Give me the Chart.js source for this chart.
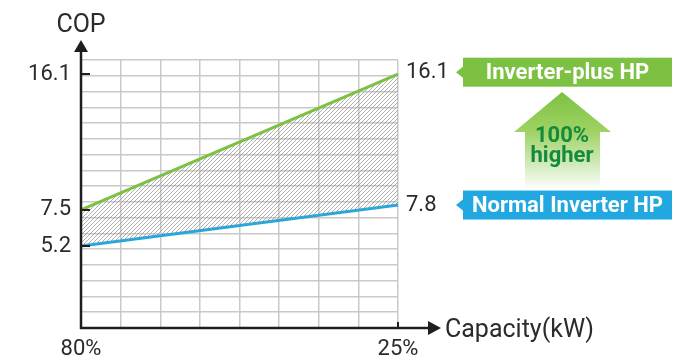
<!DOCTYPE html>
<html>
<head>
<meta charset="utf-8">
<title>COP vs Capacity</title>
<script src="https://cdn.jsdelivr.net/npm/chart.js@4/dist/chart.umd.min.js"></script>
<style>
  html, body { margin: 0; padding: 0; background: #ffffff; }
  #wrap { width: 674px; height: 359px; position: relative; }
</style>
</head>
<body>
<div id="wrap"><canvas id="cop"></canvas></div>
<script>
// Capacity load points (left to right) and COP of each heat pump type
const capacityLabels = ['80%', '25%'];
const copNormal = [5.2, 7.8];
const copPlus = [7.5, 16.1];
const yTickLabels = [5.2, 7.5, 16.1];
const seriesNames = ['Normal Inverter HP', 'Inverter-plus HP'];
const gainText = ['100%', 'higher'];
const yAxisTitle = 'COP';
const xAxisTitle = 'Capacity(kW)';

const GRID_COLS = 8;      // vertical grid divisions across the capacity range
const Y_MAX = 17;         // COP grid drawn in steps of 1 from 0

const GREEN = '#7cc142';
const BLUE = '#22a8e1';
const AXIS = '#1e1e1e';
const TEXT = '#2b2b2b';
const FONT = 'Roboto, "DejaVu Sans", sans-serif';

const toPoints = vals => vals.map((v, i) => ({ x: i * GRID_COLS / (vals.length - 1), y: v }));

// diagonal hatch used between the two curves
function hatchPattern() {
  const s = 4;
  const c = document.createElement('canvas');
  c.width = s; c.height = s;
  const g = c.getContext('2d');
  g.strokeStyle = 'rgba(150,150,150,0.75)';
  g.lineWidth = 1;
  g.beginPath();
  g.moveTo(0, s); g.lineTo(s, 0);
  g.moveTo(-1, 1); g.lineTo(1, -1);
  g.moveTo(s - 1, s + 1); g.lineTo(s + 1, s - 1);
  g.stroke();
  return g.createPattern(c, 'repeat');
}

const isLabelTick = v => yTickLabels.some(t => Math.abs(t - v) < 1e-6);

// axes with arrows, tick marks, end values, callouts and the gain arrow
const decorations = {
  id: 'decorations',
  afterDraw(chart) {
    const { ctx, chartArea: a, scales: { x, y } } = chart;
    ctx.save();

    // axes
    ctx.strokeStyle = AXIS;
    ctx.fillStyle = AXIS;
    ctx.lineWidth = 2.5;
    ctx.beginPath();
    ctx.moveTo(a.left, a.bottom + 1);
    ctx.lineTo(a.left, 50);
    ctx.moveTo(a.left - 1, a.bottom);
    ctx.lineTo(430, a.bottom);
    ctx.stroke();
    // arrow heads
    ctx.beginPath();
    ctx.moveTo(a.left, 40);
    ctx.lineTo(a.left - 7, 52);
    ctx.lineTo(a.left + 7, 52);
    ctx.closePath();
    ctx.fill();
    ctx.beginPath();
    ctx.moveTo(441, a.bottom);
    ctx.lineTo(428, a.bottom - 7);
    ctx.lineTo(428, a.bottom + 7);
    ctx.closePath();
    ctx.fill();

    // short tick marks on the axes
    ctx.lineWidth = 2;
    ctx.beginPath();
    yTickLabels.forEach(v => {
      const py = Math.round(y.getPixelForValue(v));
      ctx.moveTo(a.left, py);
      ctx.lineTo(a.left + 9, py);
    });
    const xr = x.getPixelForValue(GRID_COLS);
    ctx.moveTo(xr, a.bottom);
    ctx.lineTo(xr, a.bottom - 6);
    ctx.stroke();

    // axis titles
    ctx.fillStyle = TEXT;
    ctx.font = '400 25px ' + FONT;
    ctx.textBaseline = 'alphabetic';
    ctx.textAlign = 'center';
    ctx.fillText(yAxisTitle, a.left, 32);
    ctx.textAlign = 'left';
    ctx.fillText(xAxisTitle, 445, a.bottom + 9);

    // end values and series callouts
    const series = [
      { vals: copPlus, name: seriesNames[1], color: GREEN, dy: -2 },
      { vals: copNormal, name: seriesNames[0], color: BLUE, dy: 0 }
    ];
    series.forEach(s => {
      const last = s.vals[s.vals.length - 1];
      const px = x.getPixelForValue(GRID_COLS);
      const py = y.getPixelForValue(last);
      ctx.fillStyle = TEXT;
      ctx.font = '400 22px ' + FONT;
      ctx.textAlign = 'left';
      ctx.textBaseline = 'middle';
      ctx.fillText(String(last), px + 8, py + s.dy);

      const bx = 463, bw = 209, bh = 29;
      const by = py + s.dy - bh / 2;
      ctx.fillStyle = s.color;
      ctx.fillRect(bx, by, bw, bh);
      ctx.beginPath();
      ctx.moveTo(bx + 0.5, by + bh / 2 - 6);
      ctx.lineTo(bx - 7, by + bh / 2);
      ctx.lineTo(bx + 0.5, by + bh / 2 + 6);
      ctx.closePath();
      ctx.fill();
      ctx.fillStyle = '#ffffff';
      ctx.font = '700 22px ' + FONT;
      ctx.textAlign = 'center';
      ctx.fillText(s.name, bx + bw / 2, by + bh / 2 + 1);
    });

    // gain arrow between the callouts
    const cx = 562, top = 92, shoulder = 132, bottom = 190;
    const grad = ctx.createLinearGradient(0, top, 0, bottom);
    grad.addColorStop(0, '#7cc142');
    grad.addColorStop(0.4, '#9fd263');
    grad.addColorStop(0.75, '#d3ebbd');
    grad.addColorStop(1, '#ffffff');
    ctx.fillStyle = grad;
    ctx.beginPath();
    ctx.moveTo(cx, top);
    ctx.lineTo(cx + 49, shoulder);
    ctx.lineTo(cx + 38, shoulder);
    ctx.lineTo(cx + 38, bottom);
    ctx.lineTo(cx - 37, bottom);
    ctx.lineTo(cx - 37, shoulder);
    ctx.lineTo(cx - 48, shoulder);
    ctx.closePath();
    ctx.fill();
    ctx.fillStyle = '#138a3c';
    ctx.font = '700 22px ' + FONT;
    ctx.textAlign = 'center';
    ctx.textBaseline = 'alphabetic';
    ctx.fillText(gainText[0], cx, 142);
    ctx.fillText(gainText[1], cx, 162);

    ctx.restore();
  }
};

new Chart(document.getElementById('cop'), {
  type: 'line',
  data: {
    datasets: [
      {
        label: seriesNames[0],
        data: toPoints(copNormal),
        borderColor: BLUE,
        borderWidth: 3,
        pointRadius: 0,
        fill: false,
        clip: false,
        order: 1
      },
      {
        label: seriesNames[1],
        data: toPoints(copPlus),
        borderColor: GREEN,
        borderWidth: 3,
        pointRadius: 0,
        backgroundColor: hatchPattern(),
        fill: '-1',
        clip: false,
        order: 0
      }
    ]
  },
  options: {
    responsive: true,
    maintainAspectRatio: false,
    animation: false,
    layout: { padding: { top: 60, right: 276, left: 0, bottom: 0 } },
    plugins: { legend: { display: false }, tooltip: { enabled: false } },
    scales: {
      x: {
        type: 'linear',
        min: 0,
        max: GRID_COLS,
        afterBuildTicks: s => { s.ticks = Array.from({ length: GRID_COLS + 1 }, (_, i) => ({ value: i })); },
        afterFit: s => { s.height = 31; },
        grid: { color: '#c9c9c9', lineWidth: 1.5, drawTicks: false },
        border: { display: false },
        ticks: {
          autoSkip: false,
          maxRotation: 0,
          padding: 8,
          color: TEXT,
          font: { family: FONT, size: 22 },
          callback: v => v === 0 ? capacityLabels[0] : (v === GRID_COLS ? capacityLabels[capacityLabels.length - 1] : '')
        }
      },
      y: {
        type: 'linear',
        min: 0,
        max: Y_MAX,
        afterBuildTicks: s => {
          const grid = Array.from({ length: Y_MAX + 1 }, (_, i) => i);
          s.ticks = grid.concat(yTickLabels).sort((p, q) => p - q).map(v => ({ value: v }));
        },
        afterFit: s => { s.width = 81; },
        grid: {
          color: c => isLabelTick(c.tick.value) ? 'rgba(0,0,0,0)' : '#c9c9c9',
          lineWidth: 1.5,
          drawTicks: false
        },
        border: { display: false },
        ticks: {
          autoSkip: false,
          padding: 10,
          color: TEXT,
          font: { family: FONT, size: 22 },
          callback: v => isLabelTick(v) ? String(v) : ''
        }
      }
    }
  },
  plugins: [decorations]
});
</script>
</body>
</html>
